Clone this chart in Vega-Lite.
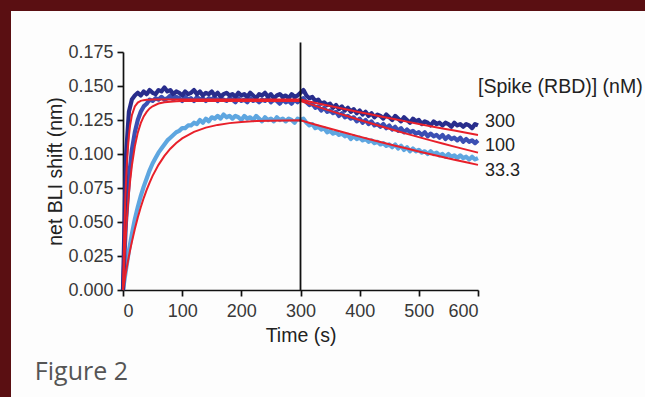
{
  "$schema": "https://vega.github.io/schema/vega-lite/v6.json",
  "width": 634,
  "height": 386,
  "autosize": {"type": "none"},
  "padding": {"left": 11, "top": 11, "right": 0, "bottom": 0},
  "background": "#5a0f12",
  "config": {
    "view": {"fill": "#fdfdfd", "stroke": null},
    "font": "Liberation Sans",
    "axis": {
      "domainColor": "#111111", "domainWidth": 1.7, "tickColor": "#111111", "tickWidth": 1.7, "tickSize": 6,
      "labelColor": "#383838", "labelFont": "Liberation Sans", "labelFontSize": 18,
      "titleColor": "#222222", "titleFont": "Liberation Sans", "titleFontSize": 19.5, "titleFontWeight": "normal",
      "grid": false
    }
  },
  "datasets": {
    "d": [
      {"t":0,"a":0.000,"b":0.000,"c":0.000},
      {"t":5,"a":0.098,"b":0.050,"c":0.015},
      {"t":10,"a":0.131,"b":0.082,"c":0.029},
      {"t":15,"a":0.140,"b":0.103,"c":0.041},
      {"t":20,"a":0.143,"b":0.116,"c":0.052},
      {"t":25,"a":0.145,"b":0.125,"c":0.061},
      {"t":30,"a":0.143,"b":0.131,"c":0.069},
      {"t":35,"a":0.146,"b":0.135,"c":0.076},
      {"t":40,"a":0.144,"b":0.137,"c":0.082},
      {"t":45,"a":0.147,"b":0.140,"c":0.088},
      {"t":50,"a":0.145,"b":0.139,"c":0.093},
      {"t":55,"a":0.144,"b":0.141,"c":0.097},
      {"t":60,"a":0.147,"b":0.140,"c":0.101},
      {"t":65,"a":0.146,"b":0.142,"c":0.104},
      {"t":70,"a":0.149,"b":0.140,"c":0.107},
      {"t":75,"a":0.146,"b":0.141,"c":0.110},
      {"t":80,"a":0.147,"b":0.143,"c":0.112},
      {"t":85,"a":0.144,"b":0.140,"c":0.114},
      {"t":90,"a":0.146,"b":0.142,"c":0.116},
      {"t":95,"a":0.145,"b":0.141,"c":0.117},
      {"t":100,"a":0.143,"b":0.139,"c":0.119},
      {"t":105,"a":0.146,"b":0.142,"c":0.119},
      {"t":110,"a":0.144,"b":0.140,"c":0.121},
      {"t":115,"a":0.145,"b":0.141,"c":0.121},
      {"t":120,"a":0.147,"b":0.139,"c":0.123},
      {"t":125,"a":0.144,"b":0.142,"c":0.122},
      {"t":130,"a":0.146,"b":0.140,"c":0.125},
      {"t":135,"a":0.143,"b":0.141,"c":0.123},
      {"t":140,"a":0.145,"b":0.139,"c":0.126},
      {"t":145,"a":0.144,"b":0.141,"c":0.124},
      {"t":150,"a":0.146,"b":0.140,"c":0.127},
      {"t":155,"a":0.143,"b":0.142,"c":0.126},
      {"t":160,"a":0.145,"b":0.139,"c":0.128},
      {"t":165,"a":0.142,"b":0.141,"c":0.126},
      {"t":170,"a":0.144,"b":0.140,"c":0.129},
      {"t":175,"a":0.145,"b":0.139,"c":0.127},
      {"t":180,"a":0.143,"b":0.141,"c":0.128},
      {"t":185,"a":0.144,"b":0.140,"c":0.126},
      {"t":190,"a":0.142,"b":0.138,"c":0.128},
      {"t":195,"a":0.145,"b":0.141,"c":0.127},
      {"t":200,"a":0.143,"b":0.139,"c":0.125},
      {"t":205,"a":0.144,"b":0.140,"c":0.128},
      {"t":210,"a":0.142,"b":0.138,"c":0.126},
      {"t":215,"a":0.145,"b":0.141,"c":0.127},
      {"t":220,"a":0.143,"b":0.139,"c":0.125},
      {"t":225,"a":0.141,"b":0.140,"c":0.128},
      {"t":230,"a":0.144,"b":0.138,"c":0.126},
      {"t":235,"a":0.143,"b":0.140,"c":0.124},
      {"t":240,"a":0.145,"b":0.139,"c":0.127},
      {"t":245,"a":0.142,"b":0.141,"c":0.125},
      {"t":250,"a":0.144,"b":0.138,"c":0.126},
      {"t":255,"a":0.141,"b":0.140,"c":0.124},
      {"t":260,"a":0.143,"b":0.139,"c":0.127},
      {"t":265,"a":0.144,"b":0.137,"c":0.125},
      {"t":270,"a":0.142,"b":0.140,"c":0.126},
      {"t":275,"a":0.143,"b":0.138,"c":0.124},
      {"t":280,"a":0.141,"b":0.139,"c":0.126},
      {"t":285,"a":0.144,"b":0.137,"c":0.125},
      {"t":290,"a":0.142,"b":0.140,"c":0.123},
      {"t":295,"a":0.143,"b":0.138,"c":0.126},
      {"t":300,"a":0.145,"b":0.140,"c":0.125},
      {"t":305,"a":0.147,"b":0.141,"c":0.126},
      {"t":310,"a":0.143,"b":0.138,"c":0.123},
      {"t":315,"a":0.141,"b":0.136,"c":0.121},
      {"t":320,"a":0.142,"b":0.137,"c":0.122},
      {"t":325,"a":0.139,"b":0.134,"c":0.119},
      {"t":330,"a":0.140,"b":0.135,"c":0.120},
      {"t":335,"a":0.137,"b":0.132,"c":0.118},
      {"t":340,"a":0.138,"b":0.134,"c":0.119},
      {"t":345,"a":0.136,"b":0.131,"c":0.116},
      {"t":350,"a":0.137,"b":0.132,"c":0.117},
      {"t":355,"a":0.134,"b":0.130,"c":0.115},
      {"t":360,"a":0.136,"b":0.131,"c":0.116},
      {"t":365,"a":0.133,"b":0.128,"c":0.114},
      {"t":370,"a":0.135,"b":0.130,"c":0.115},
      {"t":375,"a":0.132,"b":0.127,"c":0.113},
      {"t":380,"a":0.134,"b":0.128,"c":0.114},
      {"t":385,"a":0.131,"b":0.126,"c":0.111},
      {"t":390,"a":0.133,"b":0.127,"c":0.113},
      {"t":395,"a":0.130,"b":0.124,"c":0.111},
      {"t":400,"a":0.132,"b":0.126,"c":0.112},
      {"t":405,"a":0.129,"b":0.123,"c":0.110},
      {"t":410,"a":0.131,"b":0.125,"c":0.111},
      {"t":415,"a":0.128,"b":0.122,"c":0.109},
      {"t":420,"a":0.130,"b":0.124,"c":0.110},
      {"t":425,"a":0.127,"b":0.121,"c":0.108},
      {"t":430,"a":0.129,"b":0.122,"c":0.109},
      {"t":435,"a":0.128,"b":0.120,"c":0.107},
      {"t":440,"a":0.126,"b":0.122,"c":0.108},
      {"t":445,"a":0.129,"b":0.119,"c":0.106},
      {"t":450,"a":0.127,"b":0.121,"c":0.107},
      {"t":455,"a":0.125,"b":0.118,"c":0.105},
      {"t":460,"a":0.128,"b":0.120,"c":0.107},
      {"t":465,"a":0.126,"b":0.117,"c":0.104},
      {"t":470,"a":0.124,"b":0.119,"c":0.106},
      {"t":475,"a":0.127,"b":0.116,"c":0.103},
      {"t":480,"a":0.125,"b":0.118,"c":0.105},
      {"t":485,"a":0.123,"b":0.116,"c":0.102},
      {"t":490,"a":0.126,"b":0.117,"c":0.104},
      {"t":495,"a":0.124,"b":0.115,"c":0.102},
      {"t":500,"a":0.125,"b":0.116,"c":0.103},
      {"t":505,"a":0.122,"b":0.114,"c":0.101},
      {"t":510,"a":0.124,"b":0.116,"c":0.102},
      {"t":515,"a":0.123,"b":0.113,"c":0.100},
      {"t":520,"a":0.121,"b":0.115,"c":0.102},
      {"t":525,"a":0.124,"b":0.113,"c":0.100},
      {"t":530,"a":0.122,"b":0.114,"c":0.101},
      {"t":535,"a":0.123,"b":0.112,"c":0.099},
      {"t":540,"a":0.121,"b":0.114,"c":0.100},
      {"t":545,"a":0.123,"b":0.111,"c":0.098},
      {"t":550,"a":0.122,"b":0.113,"c":0.100},
      {"t":555,"a":0.120,"b":0.111,"c":0.098},
      {"t":560,"a":0.123,"b":0.112,"c":0.099},
      {"t":565,"a":0.121,"b":0.110,"c":0.097},
      {"t":570,"a":0.122,"b":0.112,"c":0.099},
      {"t":575,"a":0.120,"b":0.109,"c":0.097},
      {"t":580,"a":0.122,"b":0.111,"c":0.098},
      {"t":585,"a":0.121,"b":0.109,"c":0.096},
      {"t":590,"a":0.119,"b":0.110,"c":0.098},
      {"t":595,"a":0.122,"b":0.108,"c":0.096},
      {"t":600,"a":0.121,"b":0.110,"c":0.097}
    ],
    "f": [
      {"t":0,"f300":0,"f100":0,"f33":0},
      {"t":2,"f300":0.0397,"f100":0.0185,"f33":0.0054},
      {"t":4,"f300":0.0682,"f100":0.0345,"f33":0.0106},
      {"t":6,"f300":0.0885,"f100":0.0485,"f33":0.0156},
      {"t":8,"f300":0.1031,"f100":0.0605,"f33":0.0204},
      {"t":10,"f300":0.1135,"f100":0.0710,"f33":0.0249},
      {"t":12,"f300":0.1211,"f100":0.0800,"f33":0.0293},
      {"t":15,"f300":0.1285,"f100":0.0914,"f33":0.0354},
      {"t":20,"f300":0.1350,"f100":0.1056,"f33":0.0449},
      {"t":25,"f300":0.1378,"f100":0.1157,"f33":0.0533},
      {"t":30,"f300":0.1391,"f100":0.1227,"f33":0.0608},
      {"t":35,"f300":0.1396,"f100":0.1276,"f33":0.0676},
      {"t":40,"f300":0.1398,"f100":0.1310,"f33":0.0736},
      {"t":45,"f300":0.1399,"f100":0.1335,"f33":0.0790},
      {"t":50,"f300":0.1400,"f100":0.1351,"f33":0.0839},
      {"t":60,"f300":0.1400,"f100":0.1371,"f33":0.0920},
      {"t":70,"f300":0.1400,"f100":0.1381,"f33":0.0986},
      {"t":80,"f300":0.1400,"f100":0.1385,"f33":0.1039},
      {"t":90,"f300":0.1400,"f100":0.1388,"f33":0.1081},
      {"t":100,"f300":0.1400,"f100":0.1389,"f33":0.1115},
      {"t":120,"f300":0.1400,"f100":0.1390,"f33":0.1163},
      {"t":140,"f300":0.1400,"f100":0.1390,"f33":0.1194},
      {"t":160,"f300":0.1400,"f100":0.1390,"f33":0.1214},
      {"t":180,"f300":0.1400,"f100":0.1390,"f33":0.1227},
      {"t":200,"f300":0.1400,"f100":0.1390,"f33":0.1235},
      {"t":225,"f300":0.1400,"f100":0.1390,"f33":0.1242},
      {"t":250,"f300":0.1400,"f100":0.1390,"f33":0.1245},
      {"t":275,"f300":0.1400,"f100":0.1390,"f33":0.1247},
      {"t":300,"f300":0.1400,"f100":0.1390,"f33":0.1248},
      {"t":320,"f300":0.1381,"f100":0.1361,"f33":0.1223},
      {"t":340,"f300":0.1362,"f100":0.1332,"f33":0.1198},
      {"t":360,"f300":0.1344,"f100":0.1304,"f33":0.1174},
      {"t":380,"f300":0.1325,"f100":0.1277,"f33":0.1151},
      {"t":400,"f300":0.1307,"f100":0.1250,"f33":0.1128},
      {"t":420,"f300":0.1290,"f100":0.1224,"f33":0.1105},
      {"t":440,"f300":0.1272,"f100":0.1198,"f33":0.1083},
      {"t":460,"f300":0.1255,"f100":0.1173,"f33":0.1061},
      {"t":480,"f300":0.1238,"f100":0.1148,"f33":0.1040},
      {"t":500,"f300":0.1221,"f100":0.1124,"f33":0.1019},
      {"t":520,"f300":0.1204,"f100":0.1100,"f33":0.0998},
      {"t":540,"f300":0.1188,"f100":0.1077,"f33":0.0978},
      {"t":560,"f300":0.1172,"f100":0.1054,"f33":0.0958},
      {"t":580,"f300":0.1156,"f100":0.1032,"f33":0.0939},
      {"t":600,"f300":0.1140,"f100":0.1010,"f33":0.0920}
    ],
    "lab": [
      {"t":612,"v":0.1235,"txt":"300"},
      {"t":612,"v":0.1060,"txt":"100"},
      {"t":612,"v":0.0875,"txt":"33.3"}
    ],
    "head": [{"t":600,"v":0.149,"txt":"[Spike (RBD)] (nM)"}],
    "cap": [{"t":-149,"v":-0.060,"txt":"Figure 2"}],
    "vline": [{"t":300,"v0":0,"v1":0.182}]
  },
  "layer": [
    {
      "data": {"name": "d"},
      "mark": {"type": "line", "color": "#5ea6e0", "strokeWidth": 4.2, "strokeJoin": "round"},
      "encoding": {
        "x": {"field": "t", "type": "quantitative", "scale": {"domain": [0, 600], "range": [112, 467], "nice": false, "zero": false},
              "axis": {"title": "Time (s)", "values": [0,100,200,300,400,500,600], "offset": -107, "labelPadding": 6, "titlePadding": 6}},
        "y": {"field": "c", "type": "quantitative", "scale": {"domain": [0, 0.175], "range": [279, 41], "nice": false, "zero": false},
              "axis": {"title": "net BLI shift (nm)", "values": [0,0.025,0.05,0.075,0.1,0.125,0.15,0.175], "format": ".3f", "offset": -112, "labelPadding": 4, "titlePadding": 2}}
      }
    },
    {
      "data": {"name": "d"},
      "mark": {"type": "line", "color": "#3b4fb3", "strokeWidth": 4.2, "strokeJoin": "round"},
      "encoding": {
        "x": {"field": "t", "type": "quantitative"},
        "y": {"field": "b", "type": "quantitative"}
      }
    },
    {
      "data": {"name": "d"},
      "mark": {"type": "line", "color": "#282d8c", "strokeWidth": 4.2, "strokeJoin": "round"},
      "encoding": {
        "x": {"field": "t", "type": "quantitative"},
        "y": {"field": "a", "type": "quantitative"}
      }
    },
    {
      "data": {"name": "f"},
      "mark": {"type": "line", "color": "#e8202a", "strokeWidth": 2},
      "encoding": {
        "x": {"field": "t", "type": "quantitative"},
        "y": {"field": "f33", "type": "quantitative"}
      }
    },
    {
      "data": {"name": "f"},
      "mark": {"type": "line", "color": "#e8202a", "strokeWidth": 2},
      "encoding": {
        "x": {"field": "t", "type": "quantitative"},
        "y": {"field": "f100", "type": "quantitative"}
      }
    },
    {
      "data": {"name": "f"},
      "mark": {"type": "line", "color": "#e8202a", "strokeWidth": 2},
      "encoding": {
        "x": {"field": "t", "type": "quantitative"},
        "y": {"field": "f300", "type": "quantitative"}
      }
    },
    {
      "data": {"name": "vline"},
      "mark": {"type": "rule", "color": "#111111", "strokeWidth": 1.8},
      "encoding": {
        "x": {"field": "t", "type": "quantitative"},
        "y": {"field": "v0", "type": "quantitative"},
        "y2": {"field": "v1"}
      }
    },
    {
      "data": {"name": "lab"},
      "mark": {"type": "text", "align": "left", "baseline": "middle", "fontSize": 18, "color": "#222222", "font": "Liberation Sans"},
      "encoding": {
        "x": {"field": "t", "type": "quantitative"},
        "y": {"field": "v", "type": "quantitative"},
        "text": {"field": "txt"}
      }
    },
    {
      "data": {"name": "head"},
      "mark": {"type": "text", "align": "left", "baseline": "middle", "fontSize": 19.5, "color": "#222222", "font": "Liberation Sans"},
      "encoding": {
        "x": {"field": "t", "type": "quantitative"},
        "y": {"field": "v", "type": "quantitative"},
        "text": {"field": "txt"}
      }
    },
    {
      "data": {"name": "cap"},
      "mark": {"type": "text", "align": "left", "baseline": "middle", "fontSize": 25, "color": "#555555", "font": "Open Sans"},
      "encoding": {
        "x": {"field": "t", "type": "quantitative"},
        "y": {"field": "v", "type": "quantitative"},
        "text": {"field": "txt"}
      }
    }
  ]
}
